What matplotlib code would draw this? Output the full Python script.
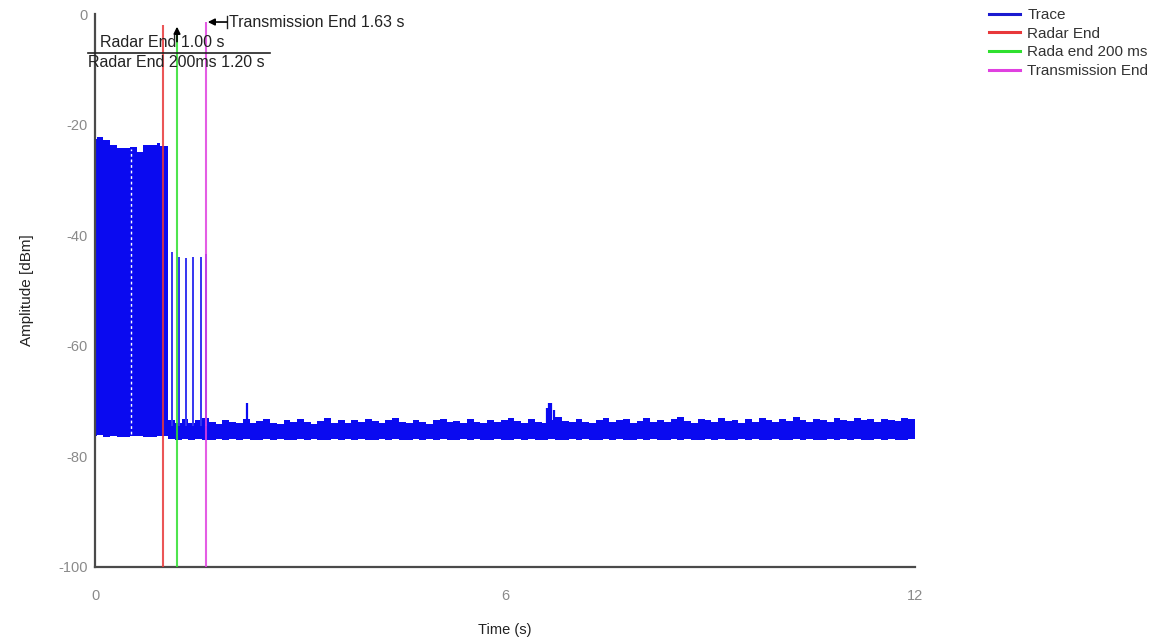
import numpy as np
import matplotlib
matplotlib.use('Agg')
import matplotlib.pyplot as plt
from matplotlib.lines import Line2D

plt.rcParams['font.family'] = ['Liberation Sans', 'DejaVu Sans']
plt.rcParams['axes.unicode_minus'] = False

# ---------------- data ----------------
# radar burst block: column left edges (s), last value is block end
burst_t = [0.00, 0.03, 0.12, 0.22, 0.32, 0.51, 0.61, 0.70, 0.91, 0.95, 1.07]
burst_top = [-22.6, -22.2, -22.8, -23.7, -24.2, -24.0, -25.0, -23.7, -23.3, -23.9]
burst_bot = [-76.4, -76.2, -76.5, -76.3, -76.5, -76.3, -76.3, -76.5, -76.3, -76.4]
gap_t = [0.52]

# isolated pulses after radar end
pulse_t = [1.12, 1.23, 1.33, 1.44, 1.55, 1.63]
pulse_top = [-43.0, -43.9, -44.1, -44.0, -44.0, -43.4]

# noise floor envelope, 0.1 s columns from 1.07 s to 12 s
noise_top = [
    -73.4, -73.9, -73.2, -74.0, -73.5, -73.1, -73.8, -74.1, -73.4, -73.7,
    -73.9, -73.3, -74.0, -73.6, -73.2, -73.9, -74.2, -73.5, -73.8, -73.3,
    -73.7, -74.1, -73.6, -73.0, -73.9, -73.5, -74.0, -73.4, -73.8, -73.2,
    -73.6, -74.0, -73.5, -73.1, -73.8, -73.9, -73.4, -73.7, -74.1, -73.5,
    -73.3, -73.8, -73.6, -74.0, -73.2, -73.7, -73.9, -73.4, -73.8, -73.5,
    -73.1, -73.6, -73.9, -73.3, -73.7, -74.0, -73.5, -72.9, -73.6, -73.8,
    -73.2, -73.7, -74.0, -73.4, -73.1, -73.8, -73.5, -73.3, -73.9, -73.6,
    -73.0, -73.7, -73.4, -73.8, -73.2, -72.8, -73.6, -73.9, -73.3, -73.5,
    -73.8, -73.1, -73.6, -73.4, -73.9, -73.2, -73.7, -73.0, -73.5, -73.8,
    -73.3, -73.6, -72.9, -73.4, -73.8, -73.2, -73.5, -73.7, -73.1, -73.4,
    -73.6, -73.0, -73.5, -73.3, -73.7, -73.2, -73.4, -73.6, -73.1, -73.3,
]
noise_bot = [
    -76.9, -77.0, -76.9, -77.1, -76.8, -77.0, -77.1, -76.9, -77.0, -76.9,
    -77.1, -76.9, -77.0, -77.1, -76.9, -77.0, -76.8, -77.1, -77.0, -76.9,
    -77.0, -76.9, -77.1, -77.0, -76.9, -77.1, -76.9, -77.0, -76.8, -77.0,
    -77.1, -76.9, -77.0, -76.9, -77.1, -77.0, -76.9, -77.1, -76.9, -77.0,
    -76.9, -77.1, -77.0, -76.9, -77.0, -76.9, -77.1, -77.0, -76.8, -77.0,
    -77.0, -76.9, -77.1, -76.9, -77.0, -77.1, -76.9, -77.0, -77.1, -76.9,
    -77.0, -76.9, -77.0, -77.1, -76.9, -77.0, -76.8, -77.0, -77.1, -76.9,
    -77.0, -76.9, -77.1, -77.0, -76.9, -77.0, -76.9, -77.1, -77.0, -76.9,
    -77.0, -76.9, -77.0, -77.1, -76.9, -77.0, -76.9, -77.0, -77.1, -76.9,
    -77.0, -77.1, -76.9, -77.0, -76.9, -77.0, -77.1, -76.9, -77.0, -76.9,
    -77.0, -76.9, -77.1, -77.0, -76.9, -77.0, -76.9, -77.0, -77.0, -76.9,
]
noise_start, noise_end = 1.07, 12.0

# small spikes on the noise floor
spike_t = [2.22, 6.62, 6.65, 6.68, 6.71]
spike_top = [-70.3, -71.2, -70.3, -70.3, -71.6]

# marker lines
marker_t = [1.00, 1.20, 1.63]
marker_top = [-2.0, -2.5, -1.4]
marker_labels = ['Radar End', 'Rada end 200 ms', 'Transmission End']
marker_colors = ['#e8383a', '#2fe02f', '#e040e0']

x_ticks = [0, 6, 12]
y_ticks = [0, -20, -40, -60, -80, -100]

# ---------------- figure ----------------
W, H = 1168, 640
fig = plt.figure(figsize=(W / 100, H / 100), dpi=100)
ax = fig.add_axes([95 / W, 1 - 567 / H, (915 - 95) / W, (567 - 14) / H])

blue = '#0a0af0'

# burst block
bt = burst_t
ax.fill_between(bt, burst_top + [burst_top[-1]], burst_bot + [burst_bot[-1]],
                step='post', color=blue, lw=0, zorder=2)
ax.vlines(gap_t, -76.0, -24.5, colors='white', linestyles=(0, (2, 2)),
          lw=1.0, zorder=3)

# noise floor
edges = np.linspace(noise_start, noise_end, len(noise_top) + 1)
ax.fill_between(edges, noise_top + [noise_top[-1]], noise_bot + [noise_bot[-1]],
                step='post', color=blue, lw=0, zorder=2)
ax.vlines(spike_t, -74.0, spike_top, colors=blue, lw=1.6, zorder=2)

# pulses
ax.vlines(pulse_t, -74.5, pulse_top, colors='#3535f0', lw=1.4, zorder=2)

# marker lines
for t, top, c in zip(marker_t, marker_top, marker_colors):
    ax.vlines([t], -100, top, colors=c, lw=1.5, alpha=0.85, zorder=4)

ax.set_xlim(0, 12)
ax.set_ylim(-100, 0)
ax.set_xticks(x_ticks)
ax.set_yticks(y_ticks)
ax.tick_params(axis='both', length=0, colors='#8a8a8a', labelsize=10.5)
ax.tick_params(axis='x', pad=16)
ax.tick_params(axis='y', pad=5)
for s in ['top', 'right']:
    ax.spines[s].set_visible(False)
for s in ['left', 'bottom']:
    ax.spines[s].set_color('#4a4a4a')
    ax.spines[s].set_linewidth(1.6)

ax.set_xlabel('Time (s)', fontsize=10.5, color='#222222', labelpad=14)
ax.set_ylabel('Amplitude [dBm]', fontsize=11, color='#222222', labelpad=18)

# annotations
fs = 11.5
ax.text(0.07, -5.1, 'Radar End 1.00 s', fontsize=fs, color='#222222',
        va='center', ha='left', clip_on=False, zorder=5)
ax.text(-0.10, -8.7, 'Radar End 200ms 1.20 s', fontsize=fs, color='#222222',
        va='center', ha='left', clip_on=False, zorder=5)
ax.plot([-0.10, 2.56], [-7.05, -7.05], color='#222222', lw=1.2,
        clip_on=False, zorder=5)
ax.annotate('', xy=(1.20, -2.3), xytext=(1.20, -5.0),
            arrowprops=dict(arrowstyle='-|>', color='black', lw=1.2,
                            mutation_scale=10, shrinkA=0, shrinkB=0),
            annotation_clip=False, zorder=6)
ax.text(1.96, -1.45, 'Transmission End 1.63 s', fontsize=fs, color='#222222',
        va='center', ha='left', clip_on=False, zorder=5)
ax.annotate('', xy=(1.65, -1.45), xytext=(1.93, -1.45),
            arrowprops=dict(arrowstyle='-|>', color='black', lw=1.2,
                            mutation_scale=10, shrinkA=0, shrinkB=0),
            annotation_clip=False, zorder=6)
ax.plot([1.93, 1.93], [-0.4, -2.5], color='#222222', lw=1.0,
        clip_on=False, zorder=5)

# legend
handles = [Line2D([], [], color='#1a1ad0', lw=2.2, label='Trace')]
for lab, c in zip(marker_labels, marker_colors):
    handles.append(Line2D([], [], color=c, lw=2.2, label=lab))
fig.legend(handles=handles, loc='upper left',
           bbox_to_anchor=(983 / W, 1 - 2 / H), frameon=False,
           fontsize=11, handlelength=2.0, handletextpad=0.5,
           labelspacing=0.3, borderaxespad=0, labelcolor='#333333')

fig.savefig('out.png', dpi=100, facecolor='white')
